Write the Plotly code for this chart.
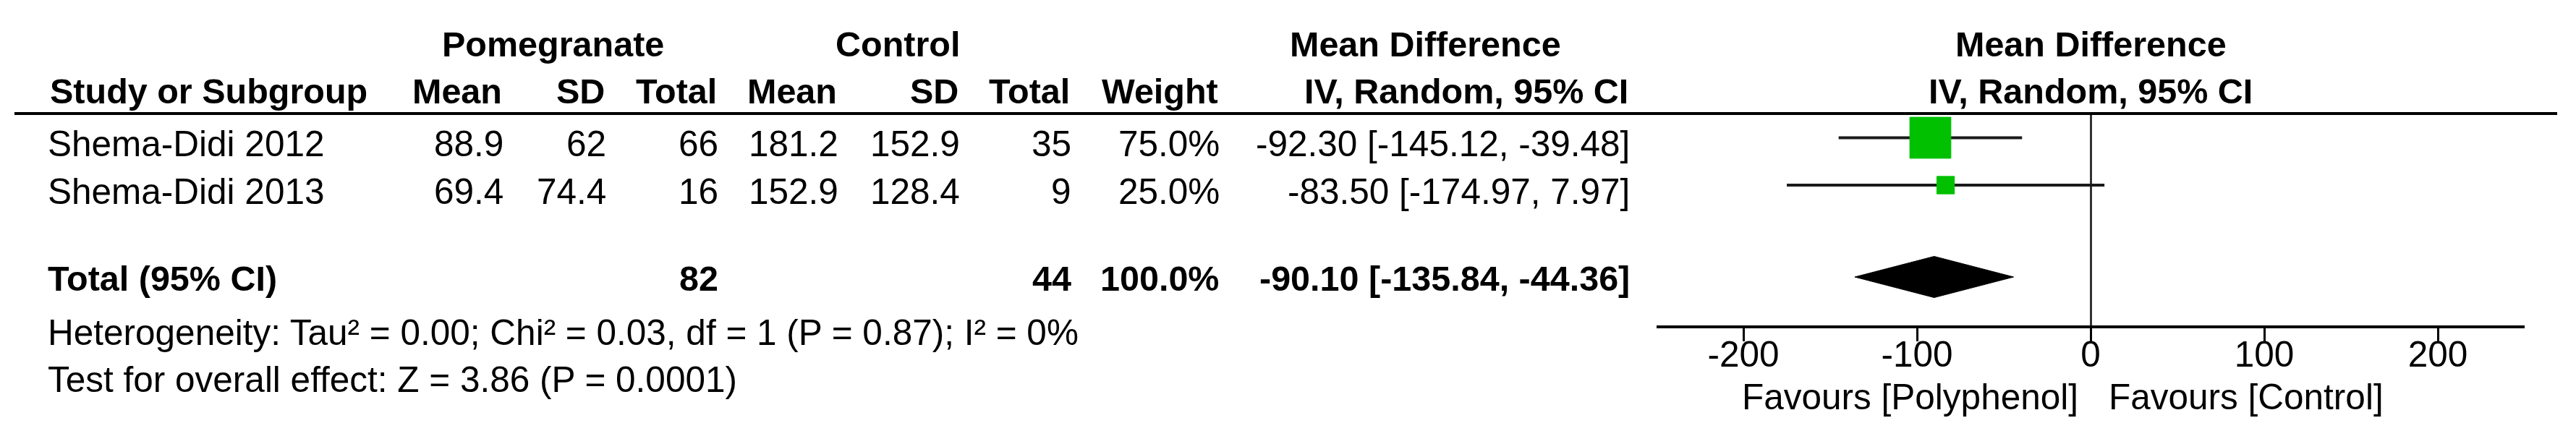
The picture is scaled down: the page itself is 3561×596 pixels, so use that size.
import plotly.graph_objects as go

# data
studies = ["Shema-Didi 2012", "Shema-Didi 2013"]
pom_mean = [88.9, 69.4]
pom_sd = [62, 74.4]
pom_n = [66, 16]
ctl_mean = [181.2, 152.9]
ctl_sd = [152.9, 128.4]
ctl_n = [35, 9]
weight = [75.0, 25.0]
md = [-92.30, -83.50]
ci_lo = [-145.12, -174.97]
ci_hi = [-39.48, 7.97]

total_pom_n = 82
total_ctl_n = 44
total_weight = 100.0
pooled_md = -90.10
pooled_lo = -135.84
pooled_hi = -44.36

heterogeneity = "Heterogeneity: Tau² = 0.00; Chi² = 0.03, df = 1 (P = 0.87); I² = 0%"
overall = "Test for overall effect: Z = 3.86 (P = 0.0001)"

tick_vals = [-200, -100, 0, 100, 200]
tick_text = ["-200", "-100", "0", "100", "200"]
label_left = "Favours [Polyphenol]"
label_right = "Favours [Control]"

# page geometry (pixels)
W, H = 3561, 596
FONT = "Liberation Sans, Arial, sans-serif"
FS = 49.5        # regular text
FS_B = 48.5      # bold text
row_y = [190.5, 256]      # line position of each study row
text_dy = 8               # text sits a bit lower than the line
total_y = 383
plot_top, plot_bottom = 157, 450
x_left, x_right = 2290, 3490


def px(x):
    return x / W


def py(y):
    return 1 - y / H


annotations = []


def txt(s, x, y, anchor="right", bold=False):
    size = FS
    if bold:
        s = "<b>" + s + "</b>"
        size = FS_B
    annotations.append(dict(
        text=s, x=px(x), y=py(y), xref="paper", yref="paper",
        xanchor=anchor, yanchor="middle", showarrow=False,
        font=dict(family=FONT, size=size, color="black"),
    ))


def fmt(v):
    return f"{v:g}"


# header
txt("Pomegranate", 764, 61, "center", True)
txt("Control", 1241, 61, "center", True)
txt("Mean Difference", 1970, 61, "center", True)
txt("Mean Difference", 2890, 61, "center", True)
txt("Study or Subgroup", 67, 126, "left", True)
txt("Mean", 696, 126, bold=True)
txt("SD", 838, 126, bold=True)
txt("Total", 993, 126, bold=True)
txt("Mean", 1159, 126, bold=True)
txt("SD", 1327, 126, bold=True)
txt("Total", 1481, 126, bold=True)
txt("Weight", 1686, 126, bold=True)
txt("IV, Random, 95% CI", 2253, 126, bold=True)
txt("IV, Random, 95% CI", 2890, 126, "center", True)

# study rows
for i, s in enumerate(studies):
    y = row_y[i] + text_dy
    txt(s, 64, y, "left")
    txt(fmt(pom_mean[i]), 698, y)
    txt(fmt(pom_sd[i]), 840, y)
    txt(fmt(pom_n[i]), 995, y)
    txt(fmt(ctl_mean[i]), 1161, y)
    txt(fmt(ctl_sd[i]), 1329, y)
    txt(fmt(ctl_n[i]), 1483, y)
    txt(f"{weight[i]:.1f}%", 1688, y)
    txt(f"{md[i]:.2f} [{ci_lo[i]:.2f}, {ci_hi[i]:.2f}]", 2255, y)

# total row
ty = total_y + 2
txt("Total (95% CI)", 64, ty, "left", True)
txt(fmt(total_pom_n), 995, ty, bold=True)
txt(fmt(total_ctl_n), 1483, ty, bold=True)
txt(f"{total_weight:.1f}%", 1688, ty, bold=True)
txt(f"{pooled_md:.2f} [{pooled_lo:.2f}, {pooled_hi:.2f}]", 2255, ty, bold=True)

txt(heterogeneity, 64, 459, "left")
txt(overall, 64, 524, "left")
txt(label_left, 2875, 548, "right")
txt(label_right, 2913, 548, "left")

fig = go.Figure()

# confidence interval whiskers
for i in range(len(studies)):
    fig.add_trace(go.Scatter(
        x=[ci_lo[i], ci_hi[i]], y=[row_y[i], row_y[i]], mode="lines",
        line=dict(color="#1a1a1a", width=4), hoverinfo="skip",
    ))

# weighted squares
fig.add_trace(go.Scatter(
    x=md, y=row_y, mode="markers",
    marker=dict(symbol="square", color="#00c000", opacity=1,
                size=[8 + 0.65 * w for w in weight],
                line=dict(color="#00c000", width=1)),
))

# pooled diamond
half_h = 28.5
fig.add_trace(go.Scatter(
    x=[pooled_lo, pooled_md, pooled_hi, pooled_md, pooled_lo],
    y=[total_y, total_y - half_h, total_y, total_y + half_h, total_y],
    mode="lines", fill="toself", fillcolor="black",
    line=dict(color="black", width=1),
))

axis_common = dict(
    range=[-250, 250], domain=[px(x_left), px(x_right)],
    tickvals=tick_vals, showgrid=False,
)

fig.update_layout(
    width=W, height=H,
    margin=dict(l=0, r=0, t=0, b=0),
    paper_bgcolor="white", plot_bgcolor="white",
    showlegend=False,
    annotations=annotations,
    xaxis=dict(
        **axis_common, ticktext=tick_text,
        showline=True, linecolor="black", linewidth=4,
        ticks="outside", ticklen=18, tickwidth=3, tickcolor="black",
        tickfont=dict(family=FONT, size=FS, color="black"),
        ticklabelstandoff=-24,
        zeroline=True, zerolinecolor="#333333", zerolinewidth=3,
    ),
    xaxis2=dict(
        **axis_common, overlaying="x", anchor="y", side="bottom",
        ticks="inside", ticklen=18, tickwidth=3, tickcolor="black",
        showticklabels=False, showline=False, zeroline=False,
    ),
    yaxis=dict(
        range=[plot_bottom, plot_top],
        domain=[py(plot_bottom), py(plot_top)],
        visible=False,
    ),
    shapes=[dict(
        type="line", xref="paper", yref="paper",
        x0=px(20), x1=px(3535), y0=py(plot_top), y1=py(plot_top),
        line=dict(color="black", width=4),
    )],
)

# the page body has a default 8px margin; drop it so the figure fills the window
fig.write_html("out.html", config={"displayModeBar": False},
               post_script="document.body.style.margin='0px';")
